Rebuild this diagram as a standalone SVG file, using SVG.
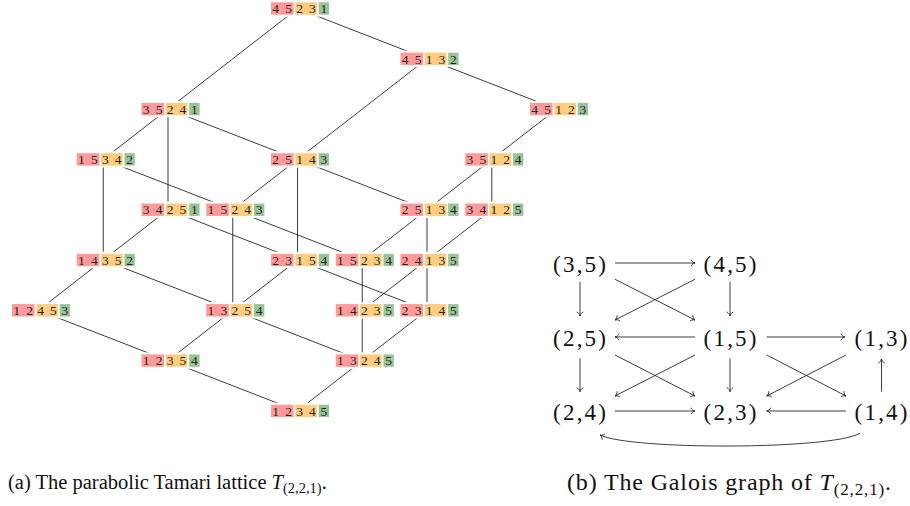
<svg xmlns="http://www.w3.org/2000/svg" xmlns:xlink="http://www.w3.org/1999/xlink" width="910" height="506" viewBox="0 0 910 506">
<style>
.bg{fill:#fff}
.r{fill:#ff9a9a}
.o{fill:#ffcd80}
.g{fill:#98c498}
.lab{font-family:"Liberation Serif","DejaVu Serif",serif;font-size:13.5px;fill:#222;text-anchor:middle}
.edges line{stroke:#1a1a1a;stroke-width:0.85}
.arr path,.arr line{stroke:#1a1a1a;stroke-width:0.85;fill:none}
.gl{font-family:"Liberation Serif","DejaVu Serif",serif;font-size:23px;fill:#111;text-anchor:middle}
.cap{font-family:"Liberation Serif","DejaVu Serif",serif;font-size:20.5px;fill:#111}
.capb{font-family:"Liberation Serif","DejaVu Serif",serif;font-size:24px;fill:#111}
</style>
<defs>
<g id="boxes">
<rect class="bg" x="-2" y="-8.2" width="62.4" height="16.4"/>
<rect class="r" x="0" y="-6.2" width="22.6" height="12.4"/>
<rect class="o" x="24.3" y="-6.2" width="21.7" height="12.4"/>
<rect class="g" x="47.7" y="-6.2" width="10.4" height="12.4"/>
</g>
<marker id="to" markerUnits="userSpaceOnUse" orient="auto" markerWidth="12" markerHeight="12" refX="0" refY="0" overflow="visible">
<path d="M-4,-3.3 C-3.4,-1.3 -1.2,-0.3 0,0 C-1.2,0.3 -3.4,1.3 -4,3.3" fill="none" stroke="#1a1a1a" stroke-width="0.8"/>
</marker>
</defs>
<rect width="910" height="506" fill="#fff"/>

<g id="connectors-a" class="edges">
<line x1="297.5" y1="8.5" x2="168" y2="109.1"/>
<line x1="297.5" y1="8.5" x2="427" y2="58.8"/>
<line x1="427" y1="58.8" x2="297.5" y2="159.4"/>
<line x1="427" y1="58.8" x2="556.5" y2="109.1"/>
<line x1="168" y1="109.1" x2="103.25" y2="159.4"/>
<line x1="168" y1="109.1" x2="168" y2="209.7"/>
<line x1="168" y1="109.1" x2="297.5" y2="159.4"/>
<line x1="556.5" y1="109.1" x2="491.75" y2="159.4"/>
<line x1="103.25" y1="159.4" x2="103.25" y2="260"/>
<line x1="103.25" y1="159.4" x2="232.75" y2="209.7"/>
<line x1="297.5" y1="159.4" x2="232.75" y2="209.7"/>
<line x1="297.5" y1="159.4" x2="297.5" y2="260"/>
<line x1="297.5" y1="159.4" x2="427" y2="209.7"/>
<line x1="491.75" y1="159.4" x2="427" y2="209.7"/>
<line x1="491.75" y1="159.4" x2="491.75" y2="209.7"/>
<line x1="168" y1="209.7" x2="103.25" y2="260"/>
<line x1="168" y1="209.7" x2="297.5" y2="260"/>
<line x1="232.75" y1="209.7" x2="232.75" y2="310.3"/>
<line x1="232.75" y1="209.7" x2="362.25" y2="260"/>
<line x1="427" y1="209.7" x2="362.25" y2="260"/>
<line x1="427" y1="209.7" x2="427" y2="260"/>
<line x1="491.75" y1="209.7" x2="427" y2="260"/>
<line x1="103.25" y1="260" x2="38.5" y2="310.3"/>
<line x1="103.25" y1="260" x2="232.75" y2="310.3"/>
<line x1="297.5" y1="260" x2="232.75" y2="310.3"/>
<line x1="297.5" y1="260" x2="427" y2="310.3"/>
<line x1="362.25" y1="260" x2="362.25" y2="310.3"/>
<line x1="427" y1="260" x2="362.25" y2="310.3"/>
<line x1="427" y1="260" x2="427" y2="310.3"/>
<line x1="38.5" y1="310.3" x2="168" y2="360.6"/>
<line x1="232.75" y1="310.3" x2="168" y2="360.6"/>
<line x1="232.75" y1="310.3" x2="362.25" y2="360.6"/>
<line x1="362.25" y1="310.3" x2="362.25" y2="360.6"/>
<line x1="427" y1="310.3" x2="362.25" y2="360.6"/>
<line x1="168" y1="360.6" x2="297.5" y2="410.9"/>
<line x1="362.25" y1="360.6" x2="297.5" y2="410.9"/>
</g>

<g id="n45231" transform="translate(271,8.5)"><use xlink:href="#boxes"/><text class="lab" x="4.7 17.7 28.6 41.3 52.9" y="4.7">45231</text></g>
<g id="n45132" transform="translate(400.5,58.8)"><use xlink:href="#boxes"/><text class="lab" x="4.7 17.7 28.6 41.3 52.9" y="4.7">45132</text></g>
<g id="n35241" transform="translate(141.5,109.1)"><use xlink:href="#boxes"/><text class="lab" x="4.7 17.7 28.6 41.3 52.9" y="4.7">35241</text></g>
<g id="n45123" transform="translate(530,109.1)"><use xlink:href="#boxes"/><text class="lab" x="4.7 17.7 28.6 41.3 52.9" y="4.7">45123</text></g>
<g id="n15342" transform="translate(76.75,159.4)"><use xlink:href="#boxes"/><text class="lab" x="4.7 17.7 28.6 41.3 52.9" y="4.7">15342</text></g>
<g id="n25143" transform="translate(271,159.4)"><use xlink:href="#boxes"/><text class="lab" x="4.7 17.7 28.6 41.3 52.9" y="4.7">25143</text></g>
<g id="n35124" transform="translate(465.25,159.4)"><use xlink:href="#boxes"/><text class="lab" x="4.7 17.7 28.6 41.3 52.9" y="4.7">35124</text></g>
<g id="n34251" transform="translate(141.5,209.7)"><use xlink:href="#boxes"/><text class="lab" x="4.7 17.7 28.6 41.3 52.9" y="4.7">34251</text></g>
<g id="n15243" transform="translate(206.25,209.7)"><use xlink:href="#boxes"/><text class="lab" x="4.7 17.7 28.6 41.3 52.9" y="4.7">15243</text></g>
<g id="n25134" transform="translate(400.5,209.7)"><use xlink:href="#boxes"/><text class="lab" x="4.7 17.7 28.6 41.3 52.9" y="4.7">25134</text></g>
<g id="n34125" transform="translate(465.25,209.7)"><use xlink:href="#boxes"/><text class="lab" x="4.7 17.7 28.6 41.3 52.9" y="4.7">34125</text></g>
<g id="n14352" transform="translate(76.75,260)"><use xlink:href="#boxes"/><text class="lab" x="4.7 17.7 28.6 41.3 52.9" y="4.7">14352</text></g>
<g id="n23154" transform="translate(271,260)"><use xlink:href="#boxes"/><text class="lab" x="4.7 17.7 28.6 41.3 52.9" y="4.7">23154</text></g>
<g id="n15234" transform="translate(335.75,260)"><use xlink:href="#boxes"/><text class="lab" x="4.7 17.7 28.6 41.3 52.9" y="4.7">15234</text></g>
<g id="n24135" transform="translate(400.5,260)"><use xlink:href="#boxes"/><text class="lab" x="4.7 17.7 28.6 41.3 52.9" y="4.7">24135</text></g>
<g id="n12453" transform="translate(12,310.3)"><use xlink:href="#boxes"/><text class="lab" x="4.7 17.7 28.6 41.3 52.9" y="4.7">12453</text></g>
<g id="n13254" transform="translate(206.25,310.3)"><use xlink:href="#boxes"/><text class="lab" x="4.7 17.7 28.6 41.3 52.9" y="4.7">13254</text></g>
<g id="n14235" transform="translate(335.75,310.3)"><use xlink:href="#boxes"/><text class="lab" x="4.7 17.7 28.6 41.3 52.9" y="4.7">14235</text></g>
<g id="n23145" transform="translate(400.5,310.3)"><use xlink:href="#boxes"/><text class="lab" x="4.7 17.7 28.6 41.3 52.9" y="4.7">23145</text></g>
<g id="n12354" transform="translate(141.5,360.6)"><use xlink:href="#boxes"/><text class="lab" x="4.7 17.7 28.6 41.3 52.9" y="4.7">12354</text></g>
<g id="n13245" transform="translate(335.75,360.6)"><use xlink:href="#boxes"/><text class="lab" x="4.7 17.7 28.6 41.3 52.9" y="4.7">13245</text></g>
<g id="n12345" transform="translate(271,410.9)"><use xlink:href="#boxes"/><text class="lab" x="4.7 17.7 28.6 41.3 52.9" y="4.7">12345</text></g>

<g id="connectors-b" class="arr">
<line x1="615" y1="263" x2="695" y2="263" marker-end="url(#to)"/>
<line x1="580" y1="281.7" x2="580" y2="316" marker-end="url(#to)"/>
<line x1="730" y1="281.7" x2="730" y2="316" marker-end="url(#to)"/>
<line x1="615" y1="279.3" x2="695" y2="320" marker-end="url(#to)"/>
<line x1="695" y1="279.3" x2="615" y2="320" marker-end="url(#to)"/>
<line x1="695" y1="337" x2="615" y2="337" marker-end="url(#to)"/>
<line x1="766.7" y1="337" x2="845" y2="337" marker-end="url(#to)"/>
<line x1="580" y1="358.3" x2="580" y2="391.7" marker-end="url(#to)"/>
<line x1="730" y1="358.3" x2="730" y2="391.7" marker-end="url(#to)"/>
<line x1="615" y1="355" x2="695" y2="396" marker-end="url(#to)"/>
<line x1="695" y1="355" x2="615" y2="396" marker-end="url(#to)"/>
<line x1="766.7" y1="355" x2="846" y2="396" marker-end="url(#to)"/>
<line x1="846" y1="355" x2="766.7" y2="396" marker-end="url(#to)"/>
<line x1="881.5" y1="391.7" x2="881.5" y2="359" marker-end="url(#to)"/>
<line x1="615" y1="411" x2="695" y2="411" marker-end="url(#to)"/>
<line x1="846" y1="411" x2="766.7" y2="411" marker-end="url(#to)"/>
<path d="M860,433.3 C830,450 630,450 600,435" marker-end="url(#to)"/>
</g>

<g id="g35"><text class="gl" x="579.5" y="271.5" textLength="53" lengthAdjust="spacing">(3,5)</text></g>
<g id="g45"><text class="gl" x="730" y="271.5" textLength="53" lengthAdjust="spacing">(4,5)</text></g>
<g id="g25"><text class="gl" x="579.5" y="345.5" textLength="53" lengthAdjust="spacing">(2,5)</text></g>
<g id="g15"><text class="gl" x="730" y="345.5" textLength="53" lengthAdjust="spacing">(1,5)</text></g>
<g id="g13"><text class="gl" x="881" y="345.5" textLength="53" lengthAdjust="spacing">(1,3)</text></g>
<g id="g24"><text class="gl" x="579.5" y="419.5" textLength="53" lengthAdjust="spacing">(2,4)</text></g>
<g id="g23"><text class="gl" x="730" y="419.5" textLength="53" lengthAdjust="spacing">(2,3)</text></g>
<g id="g14"><text class="gl" x="881" y="419.5" textLength="53" lengthAdjust="spacing">(1,4)</text></g>

<text class="cap" x="8" y="489">(a) The parabolic Tamari lattice <tspan font-style="italic">T</tspan><tspan font-size="14.5" dy="4">(2,2,1)</tspan><tspan dy="-4">.</tspan></text>
<text class="capb" x="567" y="490" textLength="324" lengthAdjust="spacing">(b) The Galois graph of <tspan font-style="italic">T</tspan><tspan font-size="17" dy="4.5">(2,2,1)</tspan><tspan dy="-4.5">.</tspan></text>
</svg>
